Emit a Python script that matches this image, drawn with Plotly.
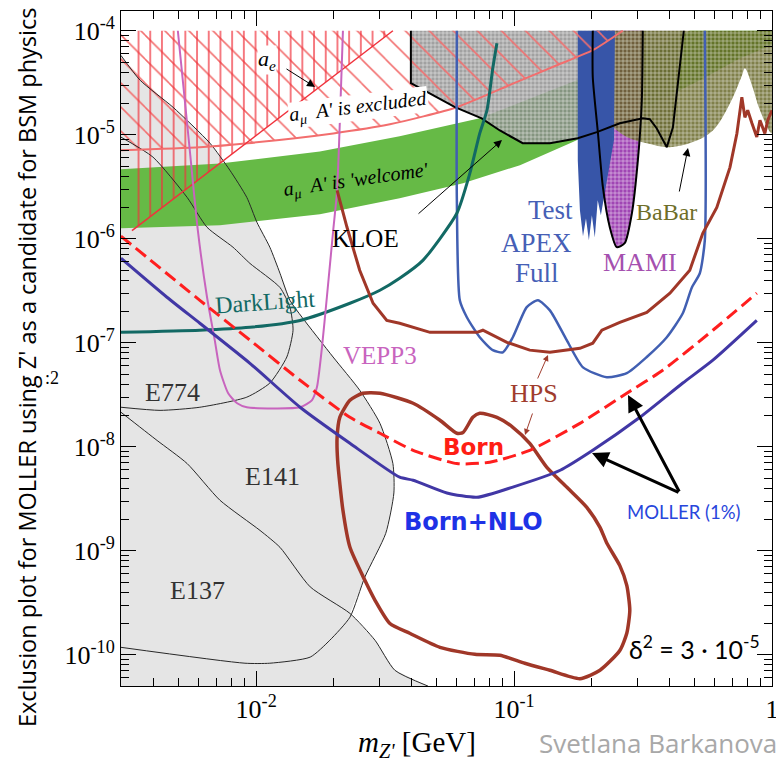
import plotly.graph_objects as go

SERIF = "Liberation Serif, Times New Roman, serif"
SANS = "Lato, Open Sans, sans-serif"

# ---------------- data (x: m_Z' [GeV], y: coupling^2) ----------------
E137_x = [0.00299, 0.00355, 0.00476, 0.00662, 0.00791, 0.0092, 0.01007, 0.0113, 0.01237, 0.01352,
          0.01506, 0.01987, 0.0252, 0.0302, 0.0339, 0.0342, 0.0318, 0.0264, 0.0231, 0.0193,
          0.0162, 0.0113, 0.00905, 0.00299]
E137_y = [5.8e-5, 3.34e-5, 1.84e-5, 8.3e-6, 4.56e-6, 2.5e-6, 1.44e-6, 8.3e-7, 4.66e-7, 2.56e-7,
          1.76e-7, 7.3e-8, 3.5e-8, 1.68e-8, 6.9e-9, 3.6e-9, 1.47e-9, 5.6e-10, 2.3e-10, 1.38e-10,
          9.5e-11, 8.3e-11, 8.3e-11, 1.18e-10]
E141_x = [0.00299, 0.00413, 0.0054, 0.00724, 0.01035, 0.01237, 0.0162, 0.0231, 0.0289, 0.0345, 0.0464]
E141_y = [2.15e-8, 1.15e-8, 6.9e-9, 3.06e-9, 1.57e-9, 1.08e-9, 4.5e-10, 2.5e-10, 1.38e-10, 7.1e-11, 5.0e-11]
E774_x = [0.00299, 0.00398, 0.0054, 0.00645, 0.00813, 0.00946, 0.01237, 0.01352, 0.0139, 0.01315,
          0.0113, 0.0092, 0.00605, 0.00424, 0.00299]
E774_y = [9.5e-6, 6.1e-6, 2.5e-6, 1.29e-6, 8.3e-7, 5.8e-7, 3.4e-7, 2.2e-7, 1.32e-7, 7.3e-8,
          4.1e-8, 3.0e-8, 2.4e-8, 2.24e-8, 2.4e-8]
# closing corners of the shaded beam-dump area (outside the axes, clipped)
gray_corner_x = [0.05, 0.0028, 0.0028]
gray_corner_y = [4e-11, 4e-11, 5.8e-5]

welcome_up_x = [0.00299, 0.00724, 0.01766, 0.036, 0.0736, 0.175, 0.336, 0.48, 1.0]
welcome_up_y = [4.66e-6, 5.3e-6, 6.9e-6, 9.7e-6, 1.44e-5, 3.34e-5, 6.5e-5, 1e-4, 1e-4]
welcome_lo_x = [0.00299, 0.00724, 0.01766, 0.036, 0.0634, 0.1054, 0.169, 0.3076, 0.525, 0.75, 1.0]
welcome_lo_y = [1.26e-6, 1.35e-6, 1.72e-6, 2.45e-6, 3.42e-6, 5.1e-6, 8.5e-6, 1.72e-5, 3.34e-5, 5.4e-5, 7.3e-5]

amu_x = [0.00299, 0.00605, 0.00929, 0.0199, 0.033, 0.06, 0.0989, 0.1465, 0.2019, 0.264]
amu_y = [7.1e-6, 7.6e-6, 8.3e-6, 1.03e-5, 1.26e-5, 1.84e-5, 3.1e-5, 4.66e-5, 6.5e-5, 1.0e-4]
ae_x = [0.0033, 0.0339]
ae_y = [1.2e-6, 1.0e-4]
top_y = 1.0e-4
left_x = 0.00299

KLOE_x = [0.0398, 0.0398, 0.059, 0.0749, 0.0881, 0.108, 0.1377, 0.1766, 0.2094, 0.257, 0.3155,
          0.336, 0.357, 0.391, 0.413, 0.44, 0.455]
KLOE_y = [1e-4, 3.13e-5, 1.84e-5, 1.44e-5, 1.10e-5, 8.3e-6, 8.3e-6, 9.25e-6, 1.06e-5, 1.29e-5, 1.44e-5,
          1.41e-5, 1.155e-5, 7.6e-6, 1.18e-5, 4.46e-5, 1e-4]
MAMI_x = [0.2019, 0.2019, 0.2115, 0.221, 0.235, 0.250, 0.2685, 0.2863, 0.302, 0.3128, 0.3155]
MAMI_y = [1e-4, 3.57e-5, 1.03e-5, 3.13e-6, 1.29e-6, 8.3e-7, 9.06e-7, 1.76e-6, 5.7e-6, 2.15e-5, 1e-4]
BaBar_x = [0.2094, 0.2153, 0.235, 0.2735, 0.327, 0.402, 0.493, 0.59, 0.687, 0.764, 0.785, 0.836, 0.898, 1.0, 1.0]
BaBar_y = [1e-4, 2.15e-5, 1.29e-5, 9.5e-6, 8.3e-6, 7.6e-6, 8.5e-6, 1.10e-5, 2.0e-5, 3.7e-5, 4.36e-5,
           3.0e-5, 1.72e-5, 1.03e-5, 1e-4]
APEXtest_x = [0.1766, 0.246, 0.244, 0.235, 0.225, 0.217, 0.211, 0.2056, 0.2003, 0.195, 0.190, 0.185, 0.180, 0.1766]
APEXtest_y = [1e-4, 1e-4, 8.9e-6, 5.1e-6, 2.9e-6, 1.68e-6, 2.34e-6, 1.03e-6, 1.68e-6, 9.7e-7, 1.57e-6,
              1.06e-6, 1.88e-6, 5.7e-6]
APEXfull_x = [0.06, 0.06, 0.0616, 0.0656, 0.0736, 0.0827, 0.0905, 0.0989, 0.112, 0.1237, 0.1377, 0.160,
              0.185, 0.229, 0.2735, 0.327, 0.391, 0.451, 0.489, 0.525, 0.549, 0.549]
APEXfull_y = [1e-4, 2.34e-6, 2.56e-7, 1.76e-7, 1.13e-7, 8.5e-8, 8.1e-8, 1.13e-7, 2.2e-7, 2.56e-7, 2.05e-7,
              1.06e-7, 5.8e-8, 4.66e-8, 5.1e-8, 7.3e-8, 1.13e-7, 1.92e-7, 3.4e-7, 4.66e-7, 9.7e-7, 1e-4]
DL_x = [0.00299, 0.00605, 0.00946, 0.0148, 0.0231, 0.0302, 0.036, 0.0443, 0.06, 0.0674, 0.0736,
        0.0785, 0.0828, 0.0858]
DL_y = [1.26e-7, 1.32e-7, 1.41e-7, 1.64e-7, 2.4e-7, 3.2e-7, 4.17e-7, 6.2e-7, 1.76e-6, 4.27e-6, 1.03e-5,
        1.72e-5, 4.46e-5, 7.6e-5]
VEPP3_x = [0.00497, 0.00553, 0.00594, 0.00645, 0.00691, 0.00724, 0.00779, 0.00844, 0.0092, 0.0148,
           0.01644, 0.0172, 0.018, 0.0188, 0.0199, 0.0206, 0.0211, 0.0217]
VEPP3_y = [1e-4, 7.1e-6, 1.21e-6, 2.74e-7, 1.06e-7, 5.45e-8, 3.27e-8, 2.62e-8, 2.4e-8, 2.4e-8,
           2.8e-8, 3.73e-8, 9.1e-8, 2.74e-7, 1.21e-6, 2.92e-6, 1.29e-5, 1e-4]
HPSu_x = [0.0206, 0.0225, 0.0252, 0.0284, 0.0321, 0.036, 0.0472, 0.0718, 0.0757, 0.0858, 0.0938, 0.115,
          0.1377, 0.180, 0.2019, 0.219, 0.257, 0.327, 0.402, 0.480, 0.539, 0.611, 0.687, 0.731, 0.764,
          0.785, 0.805, 0.836, 0.873, 0.898, 0.938, 0.963, 1.0]
HPSu_y = [2.92e-6, 1.29e-6, 4.98e-7, 2.4e-7, 1.64e-7, 1.54e-7, 1.26e-7, 1.26e-7, 1.32e-7, 1.13e-7, 1.01e-7,
          8.5e-8, 8.1e-8, 8.85e-8, 9.9e-8, 1.32e-7, 1.57e-7, 1.96e-7, 3.0e-7, 4.98e-7, 1.13e-6, 2.0e-6,
          4.86e-6, 1.03e-5, 2.3e-5, 1.47e-5, 1.72e-5, 1.29e-5, 9.5e-6, 1.38e-5, 1.03e-5, 1.38e-5, 1.72e-5]
HPSl_x = [0.0207, 0.0206, 0.0211, 0.0231, 0.0259, 0.0302, 0.0406, 0.0516, 0.06, 0.0634, 0.0692, 0.0736,
          0.0858, 0.0989, 0.115, 0.134, 0.160, 0.1914, 0.2153, 0.229, 0.257, 0.2735, 0.281, 0.2735, 0.257,
          0.2153, 0.180, 0.1377, 0.110, 0.0881, 0.0705, 0.0516, 0.0394, 0.033, 0.0289, 0.0264, 0.0231,
          0.0217, 0.0207]
HPSl_y = [7.4e-9, 1.23e-8, 1.92e-8, 2.8e-8, 3.27e-8, 3.27e-8, 2.62e-8, 1.80e-8, 1.35e-8, 1.37e-8, 1.92e-8,
          2.1e-8, 1.92e-8, 1.54e-8, 1.08e-8, 6.35e-9, 4.1e-9, 2.62e-9, 1.68e-9, 1.18e-9, 7.2e-10, 4.66e-10,
          2.68e-10, 1.61e-10, 1.10e-10, 7.1e-11, 5.9e-11, 7.1e-11, 8.3e-11, 9.9e-11, 1.01e-10, 1.18e-10,
          1.61e-10, 2.0e-10, 3.34e-10, 5.2e-10, 1.08e-9, 2.45e-9, 7.4e-9]
Born_x = [0.00299, 0.00605, 0.00946, 0.0148, 0.0231, 0.0302, 0.0406, 0.06, 0.0805, 0.115, 0.180,
          0.2735, 0.377, 0.59, 0.873]
Born_y = [1.06e-6, 2.56e-7, 1.06e-7, 4.36e-8, 1.92e-8, 1.35e-8, 9.25e-9, 6.9e-9, 7.1e-9, 9.25e-9, 1.68e-8,
          3.27e-8, 5.45e-8, 1.32e-7, 3.0e-7]
NLO_x = [0.00299, 0.00451, 0.00605, 0.00946, 0.0148, 0.0231, 0.036, 0.0406, 0.0549, 0.0718, 0.0989,
         0.151, 0.2019, 0.3076, 0.451, 0.59, 0.873]
NLO_y = [6.5e-7, 2.74e-7, 1.54e-7, 6.35e-8, 2.4e-8, 1.08e-8, 5.1e-9, 4.77e-9, 3.6e-9, 3.27e-9, 4.1e-9,
         5.95e-9, 9.25e-9, 1.92e-8, 4.1e-8, 6.8e-8, 1.64e-7]

x_major = [0.01, 0.1, 1]
x_major_text = ["10<sup>-2</sup>", "10<sup>-1</sup>", "1"]
y_major = [1e-10, 1e-9, 1e-8, 1e-7, 1e-6, 1e-5, 1e-4]
y_major_text = ["10<sup>-%d</sup>" % k for k in (10, 9, 8, 7, 6, 5, 4)]

# ---------------- figure ----------------
fig = go.Figure()


def region(x, y, shape="linear", **kw):
    fig.add_trace(go.Scatter(x=x, y=y, mode="lines", fill="toself", hoverinfo="skip",
                             line=dict(width=0, shape=shape), **kw))


def curve(x, y, color, width, shape="spline", dash=None):
    fig.add_trace(go.Scatter(x=x, y=y, mode="lines", hoverinfo="skip",
                             line=dict(color=color, width=width, shape=shape, dash=dash,
                                       smoothing=0.6)))


# shaded beam dump area
gx = E137_x[:18] + E141_x[7:] + gray_corner_x
gy = E137_y[:18] + E141_y[7:] + gray_corner_y
region(gx, gy, fillcolor="rgb(229,229,229)")

# a_mu welcome band
region(welcome_up_x + welcome_lo_x[::-1], welcome_up_y + welcome_lo_y[::-1], fillcolor="rgb(102,186,70)")

# KLOE (gray grid)
region(KLOE_x, KLOE_y, fillcolor="rgba(0,0,0,0)",
       fillpattern=dict(shape="+", size=4, solidity=0.22, fgcolor="rgba(255,255,255,0.9)",
                        bgcolor="rgba(140,140,140,0.82)", fillmode="replace"))
# MAMI (purple grid)
region(MAMI_x, MAMI_y, shape="spline", fillcolor="rgba(0,0,0,0)",
       fillpattern=dict(shape="+", size=4, solidity=0.22, fgcolor="rgba(255,255,255,0.9)",
                        bgcolor="rgb(160,70,180)", fillmode="replace"))
# BaBar (olive grid)
region(BaBar_x, BaBar_y, shape="spline", fillcolor="rgba(0,0,0,0)",
       fillpattern=dict(shape="+", size=4, solidity=0.22, fgcolor="rgba(255,255,255,0.85)",
                        bgcolor="rgba(100,100,35,0.82)", fillmode="replace"))
# APEX test run
region(APEXtest_x, APEXtest_y, fillcolor="rgb(55,85,168)")

# a_mu excluded (diagonal hatch)
region(amu_x + [left_x], amu_y + [top_y], fillcolor="rgba(0,0,0,0)",
       fillpattern=dict(shape="\\", size=17, solidity=0.09, fgcolor="rgb(242,110,110)",
                        bgcolor="rgba(0,0,0,0)", fillmode="replace"))
# a_e excluded (vertical hatch)
region(ae_x + [ae_x[0]], ae_y + [top_y], fillcolor="rgba(0,0,0,0)",
       fillpattern=dict(shape="|", size=11.7, solidity=0.11, fgcolor="rgb(240,50,60)",
                        bgcolor="rgba(0,0,0,0)", fillmode="replace"))

# outlines of beam dump regions
curve(E137_x, E137_y, "rgb(40,40,40)", 1)
curve(E141_x, E141_y, "rgb(40,40,40)", 1)
curve(E774_x, E774_y, "rgb(40,40,40)", 1)
# g-2 boundaries
curve(amu_x, amu_y, "rgb(242,110,110)", 2)
curve(ae_x, ae_y, "rgb(240,50,60)", 1.5, shape="linear")
# KLOE / MAMI outlines
curve(KLOE_x, KLOE_y, "black", 2, shape="linear")
curve(MAMI_x, MAMI_y, "black", 2)
# experiments
curve(APEXfull_x, APEXfull_y, "rgb(65,95,178)", 2.5)
curve(DL_x, DL_y, "rgb(18,105,100)", 3)
curve(VEPP3_x, VEPP3_y, "rgb(200,100,190)", 2)
curve(HPSu_x, HPSu_y, "rgb(160,55,40)", 3, shape="linear")
curve(HPSl_x, HPSl_y, "rgb(160,55,40)", 3.5)
curve(Born_x, Born_y, "rgb(255,30,30)", 3, dash="13px,6px")
curve(NLO_x, NLO_y, "rgb(65,55,165)", 3)

# ---------------- layout ----------------
# page offset of the figure (browser default body margin) and plot box in page pixels
OFF = 8
PL, PR, PT, PB = 121, 772, 11, 686
W, H = 784 - OFF, 765 - OFF
PW, PH = PR - PL, PB - PT


def P(px, py):
    return (px - PL) / PW, (PB - py) / PH


ann = []


def text(px, py, s, size, color="black", family=SERIF, angle=0, xanchor="center", bg=None):
    x, y = P(px, py)
    d = dict(x=x, y=y, xref="paper", yref="paper", text=s, showarrow=False,
             xanchor=xanchor, yanchor="middle", textangle=angle,
             font=dict(size=size, color=color, family=family))
    if bg:
        d.update(bgcolor=bg, borderpad=0)
    ann.append(d)


def arrow(tip, tail, color="black", width=1.0, head=2, hsize=1.2):
    x, y = P(*tip)
    ann.append(dict(x=x, y=y, xref="paper", yref="paper", text="", showarrow=True,
                    ax=tail[0] - tip[0], ay=tail[1] - tip[1], arrowcolor=color,
                    arrowwidth=width, arrowhead=head, arrowsize=hsize, standoff=0))


text(267, 60, "<i>a<sub>e</sub></i>", 22, bg="white")
text(358, 108, "<i>a<sub>μ</sub>  A' is excluded</i>", 20, angle=-7, bg="white")
text(356, 180, "<i>a<sub>μ</sub>  A' is 'welcome'</i>", 20, angle=-8)
text(365, 238, "KLOE", 25)
text(575, 210, "Test", 27, "rgb(70,95,182)", xanchor="right")
text(574, 243, "APEX", 27, "rgb(70,95,182)", xanchor="right")
text(537, 273, "Full", 27, "rgb(70,95,182)")
text(666, 212, "BaBar", 24, "rgb(110,110,40)")
text(640, 262, "MAMI", 26, "rgb(165,80,175)")
text(265, 302, "DarkLight", 24, "rgb(18,105,100)", angle=-4)
text(380, 355, "VEPP3", 25, "rgb(200,100,190)")
text(534, 393, "HPS", 26, "rgb(160,60,45)")
text(172, 392, "E774", 26, "rgb(50,50,50)")
text(272, 476, "E141", 26, "rgb(50,50,50)")
text(197, 590, "E137", 26, "rgb(50,50,50)")
text(474, 447, "<b>Born</b>", 23, "rgb(255,30,20)", family="DejaVu Sans")
text(473, 522, "<b>Born+NLO</b>", 24, "rgb(30,50,230)", family="DejaVu Sans")
text(683, 512, "MOLLER (1%)", 18.5, "rgb(40,70,220)", family=SANS)
text(694, 647, "δ<sup>2</sup> = 3 · 10<sup>-5</sup>", 25, family=SANS)
text(52, 378, ":2", 18)
text(27, 368, "Exclusion plot for MOLLER using Z' as a candidate for BSM physics", 23.5,
     family="Open Sans", angle=-90)
text(417, 744, "<i>m</i><sub><i>Z'</i></sub> [GeV]", 29)
text(658, 743, "Svetlana Barkanova", 26, "rgb(168,168,168)", family="Open Sans")

arrow((315, 87), (285, 68), hsize=1.6)
arrow((502, 140), (417, 215), hsize=1.6)
arrow((688, 148), (679, 193), hsize=1.6)
arrow((548, 355), (537, 380), "rgb(160,60,45)", 1, hsize=1.2)
arrow((525, 435), (533, 412), "rgb(160,60,45)", 1, hsize=1.2)
arrow((628, 395), (680, 493), "black", 3, hsize=1.1)
arrow((592, 453), (680, 493), "black", 3, hsize=1.1)

x_minor = [k * 10.0 ** e for e in (-3, -2, -1) for k in range(2, 10)]
y_minor = [k * 10.0 ** e for e in range(-11, -3) for k in range(2, 10)]

axis_common = dict(type="log", showline=True, linecolor="black", linewidth=1, mirror="ticks",
                   ticks="inside", ticklen=15, tickcolor="black", showgrid=False, zeroline=False,
                   automargin=False,
                   tickfont=dict(family=SERIF, size=26, color="black"))
fig.update_layout(
    width=W, height=H,
    margin=dict(l=PL - OFF, r=784 - PR, t=PT - OFF, b=765 - PB, autoexpand=False),
    plot_bgcolor="white", paper_bgcolor="white", showlegend=False,
    xaxis=dict(range=[-2.524, 0.0], tickvals=x_major, ticktext=x_major_text,
               minor=dict(ticks="inside", ticklen=8, tickcolor="black", tickvals=x_minor),
               **axis_common),
    yaxis=dict(range=[-10.30, -3.81], tickvals=y_major, ticktext=y_major_text,
               minor=dict(ticks="inside", ticklen=8, tickcolor="black", tickvals=y_minor),
               **axis_common),
    annotations=ann,
)

fig.write_html("out.html")
